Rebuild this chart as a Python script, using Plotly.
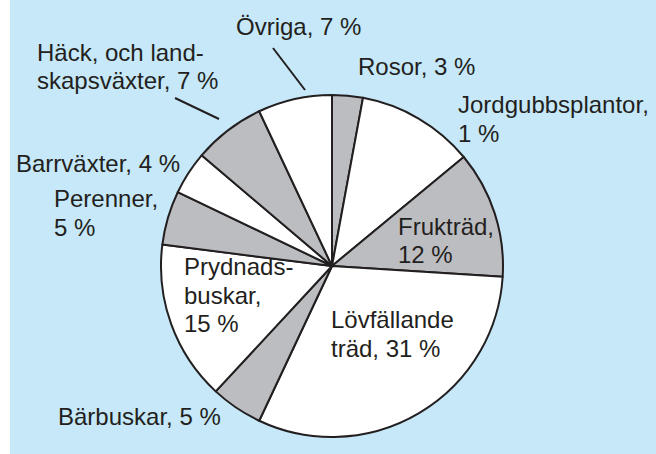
import plotly.graph_objects as go

W, H = 656, 454

# slices clockwise from 12 o'clock
categories = ['Rosor', 'Jordgubbsplantor', 'Frukträd', 'Lövfällande träd', 'Bärbuskar',
              'Prydnadsbuskar', 'Perenner', 'Barrväxter', 'Häck, och landskapsväxter', 'Övriga']
values = [2.9, 11.1, 12.0, 31.0, 4.9, 15.1, 5.1, 4.1, 6.8, 7.0]
label_lines = [['Rosor, 3 %'], ['Jordgubbsplantor,', '1 %'], ['Frukträd,', '12 %'],
               ['Lövfällande', 'träd, 31 %'], ['Bärbuskar, 5 %'], ['Prydnads-', 'buskar,', '15 %'],
               ['Perenner,', '5 %'], ['Barrväxter, 4 %'], ['Häck, och land-', 'skapsväxter, 7 %'],
               ['Övriga, 7 %']]

GRAY = '#bcbdc0'
WHITE = '#ffffff'
INK = '#231f20'
BG = '#c6e8f8'
FONT = 'Liberation Sans, Arial, sans-serif'

def px(x):
    return x / W

def py(y):
    return 1 - y / H

fig = go.Figure()
fig.add_trace(go.Pie(
    labels=categories, values=values, sort=False, direction='clockwise', rotation=0,
    textinfo='none', hoverinfo='label+percent', showlegend=False,
    marker=dict(colors=[GRAY, WHITE] * 5, line=dict(color=INK, width=2)),
    domain=dict(x=[px(161), px(503)], y=[py(437), py(95)]),
))

# left edge and baseline of the first line, in pixels
label_pos = [(357, 75), (457, 113), (397, 235), (330, 328), (57, 425),
             (183, 275), (53, 207), (15, 172), (36, 61), (235, 35)]
LINE = 28.5
for lines, (x, base) in zip(label_lines, label_pos):
    for i, txt in enumerate(lines):
        fig.add_annotation(x=px(x), y=py(base + i * LINE - 23), xref='paper', yref='paper',
                           text=txt, xanchor='left', yanchor='top', align='left',
                           showarrow=False, borderpad=0,
                           font=dict(family=FONT, size=24, color=INK))

shapes = [
    dict(type='rect', xref='paper', yref='paper', x0=0, x1=px(10), y0=0, y1=1,
         fillcolor='white', line=dict(width=0), layer='below'),
    dict(type='line', xref='paper', yref='paper', x0=px(273), y0=py(48), x1=px(305), y1=py(90),
         line=dict(color=INK, width=2)),
    dict(type='line', xref='paper', yref='paper', x0=px(175), y0=py(98), x1=px(219), y1=py(119),
         line=dict(color=INK, width=2)),
]

fig.update_layout(
    width=W, height=H, margin=dict(l=0, r=0, t=0, b=0),
    paper_bgcolor=BG, shapes=shapes,
)

# drop the page margin so the figure sits at the window origin
fig.write_html("out.html", config={'displayModeBar': False},
               post_script=f"document.body.style.margin='0';document.body.style.background='{BG}';")
